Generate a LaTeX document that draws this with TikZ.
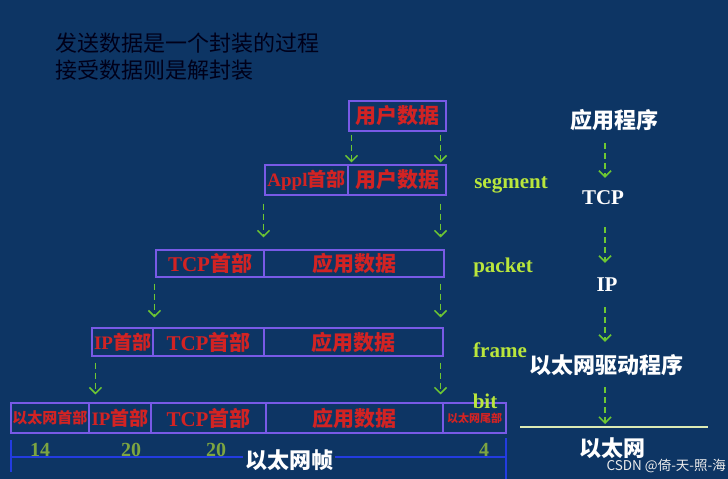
\documentclass[tikz,border=0pt]{standalone}
\usepackage{fontspec}
\setmainfont{Liberation Serif}
\newfontfamily\cjk{Noto Sans CJK SC}
\usepackage{tikz}
\usetikzlibrary{arrows.meta, calc, positioning}

\definecolor{bgblue}{RGB}{13,53,100}
\definecolor{cellline}{RGB}{120,90,230}
\definecolor{cellred}{RGB}{210,35,35}
\definecolor{flowgreen}{RGB}{110,200,50}
\definecolor{unitgreen}{RGB}{185,230,60}
\definecolor{numgreen}{RGB}{125,165,65}
\definecolor{rulerblue}{RGB}{35,60,225}
\definecolor{groundline}{RGB}{220,235,180}

\newcommand{\zh}[1]{{\cjk #1}}
\newcommand{\fs}[1]{\fontsize{#1}{#1}\selectfont}

\begin{document}
\begin{tikzpicture}[x=1pt, y=-1pt,
    cell/.style={draw=cellline, line width=1.1pt, inner sep=0pt, text=cellred, font=\fs{21}\bfseries},
    flow/.style={draw=flowgreen, line width=1.5pt, dash pattern=on 6pt off 4pt, -{Straight Barb[length=6pt, width=12pt, line width=1.5pt]}},
    layer/.style={text=white, inner sep=0pt, text height=16pt, text depth=4pt, font=\fs{21}\bfseries},
    unit/.style={text=unitgreen, font=\fs{21}\bfseries},
    bytes/.style={text=numgreen, font=\fs{20}\bfseries}]
    \useasboundingbox[fill=bgblue] (0,0) rectangle (728,479);
    % Title
    \node[anchor=west, inner sep=0pt, text=black!90!blue, font=\fs{22}\cjk] (t1) at (55,43) {发送数据是一个封装的过程};
    \node[anchor=west, inner sep=0pt, text=black!90!blue, font=\fs{22}\cjk] (t2) at (55,70) {接受数据则是解封装};
    % Row 1: user data
    \node[cell, minimum width=97pt, minimum height=30pt] (ud1) at (397.5,116) {\zh{用户数据}};
    % Row 2: segment
    \node[cell, minimum width=83pt, minimum height=30pt, font=\fs{19}\bfseries] (ap2) at (306.5,180) {Appl\zh{首部}};
    \node[cell, minimum width=98pt, minimum height=30pt] (ud2) at (397,180) {\zh{用户数据}};
    % Row 3: packet
    \node[cell, minimum width=108pt, minimum height=27pt] (tcp3) at (210,263.5) {TCP\zh{首部}};
    \node[cell, minimum width=180pt, minimum height=27pt] (ad3) at (354,263.5) {\zh{应用数据}};
    % Row 4: frame
    \node[cell, minimum width=61pt, minimum height=28pt, font=\fs{19}\bfseries] (ip4) at (122.5,342) {IP\zh{首部}};
    \node[cell, minimum width=111pt, minimum height=28pt] (tcp4) at (208.5,342) {TCP\zh{首部}};
    \node[cell, minimum width=179pt, minimum height=28pt] (ad4) at (353.5,342) {\zh{应用数据}};
    % Row 5: bit
    \node[cell, minimum width=78pt, minimum height=30pt, font=\fs{15}\bfseries] (eh5) at (50,418) {\zh{以太网首部}};
    \node[cell, minimum width=62pt, minimum height=30pt, font=\fs{19}\bfseries] (ip5) at (120,418) {IP\zh{首部}};
    \node[cell, minimum width=115pt, minimum height=30pt] (tcp5) at (208.5,418) {TCP\zh{首部}};
    \node[cell, minimum width=177pt, minimum height=30pt] (ad5) at (354.5,418) {\zh{应用数据}};
    \node[cell, minimum width=63pt, minimum height=30pt, font=\fs{11}\bfseries] (et5) at (474.5,418) {\zh{以太网尾部}};
    % Encapsulation arrows
    \draw[flow] ($(ud1.south west)+(3,3)$) -- ($(ud1.south west |- ap2.north)+(3,-2)$);
    \draw[flow] ($(ud1.south east)+(-6,3)$) -- ($(ud1.south east |- ud2.north)+(-6,-2)$);
    \draw[flow] ($(ap2.south west)+(-1,8)$) -- ($(ap2.south west |- tcp3.north)+(-1,-12)$);
    \draw[flow] ($(ud2.south east)+(-6,8)$) -- ($(ud2.south east |- ad3.north)+(-6,-12)$);
    \draw[flow] ($(tcp3.south west)+(-1,6)$) -- ($(tcp3.south west |- ip4.north)+(-1,-10)$);
    \draw[flow] ($(ad3.south east)+(-4,6)$) -- ($(ad3.south east |- ad4.north)+(-4,-10)$);
    \draw[flow] ($(ip4.south west)+(4,6)$) -- ($(ip4.south west |- eh5.north)+(4,-8)$);
    \draw[flow] ($(ad4.south east)+(-3,6)$) -- ($(ad4.south east |- ad5.north)+(-3,-8)$);
    % Units
    \node[unit] (seg) at (511,185) {segment};
    \node[unit] (pkt) at (503,267) {packet};
    \node[unit] (frm) at (500,350) {frame};
    \node[unit, inner sep=0pt] (bit) at (485,401) {bit};
    % Byte counts and frame ruler
    \draw[rulerblue, line width=1.6pt] (11,440) -- (11,472) (11,457) -- (506,457) (506,438) -- (506,479);
    \node[bytes] (n14) at (40,450) {14};
    \node[bytes] (n20a) at (131,450) {20};
    \node[bytes] (n20b) at (216,450) {20};
    \node[bytes] (n4) at (484,450) {4};
    \node[fill=bgblue, inner sep=2pt, text=white, font=\fs{22}\bfseries\cjk] (fr) at (289,460) {以太网帧};
    % Protocol stack
    \node[layer, font=\fs{22}\bfseries\cjk] (app) at (614,122) {应用程序};
    \node[layer] (tcp) at (603,198) {TCP};
    \node[layer] (ip) at (607,285) {IP};
    \node[layer, font=\fs{22}\bfseries\cjk] (drv) at (606,367) {以太网驱动程序};
    \coordinate (bus) at (605,427);
    \draw[groundline, line width=1.6pt] ($(bus)+(-85,0)$) -- ($(bus)+(103,0)$);
    \node[layer, font=\fs{22}\bfseries\cjk] (eth) at (612,450) {以太网};
    \draw[flow] ($(app.south -| tcp)+(2,11)$) -- ($(tcp.north)+(2,-10)$);
    \draw[flow] ($(tcp.south)+(2,19)$) -- ($(ip.north -| tcp)+(2,-12)$);
    \draw[flow] ($(ip.south -| tcp)+(2,12)$) -- ($(drv.north -| tcp)+(2,-15)$);
    \draw[flow] ($(drv.south -| tcp)+(2,10)$) -- ($(bus)+(0,-3)$);
    % Watermark
    \node[anchor=east, inner sep=1pt, text=white!85!gray, font=\fs{13.5}\cjk] (wm) at (727,466) {CSDN @倚-天-照-海};
\end{tikzpicture}
\end{document}
